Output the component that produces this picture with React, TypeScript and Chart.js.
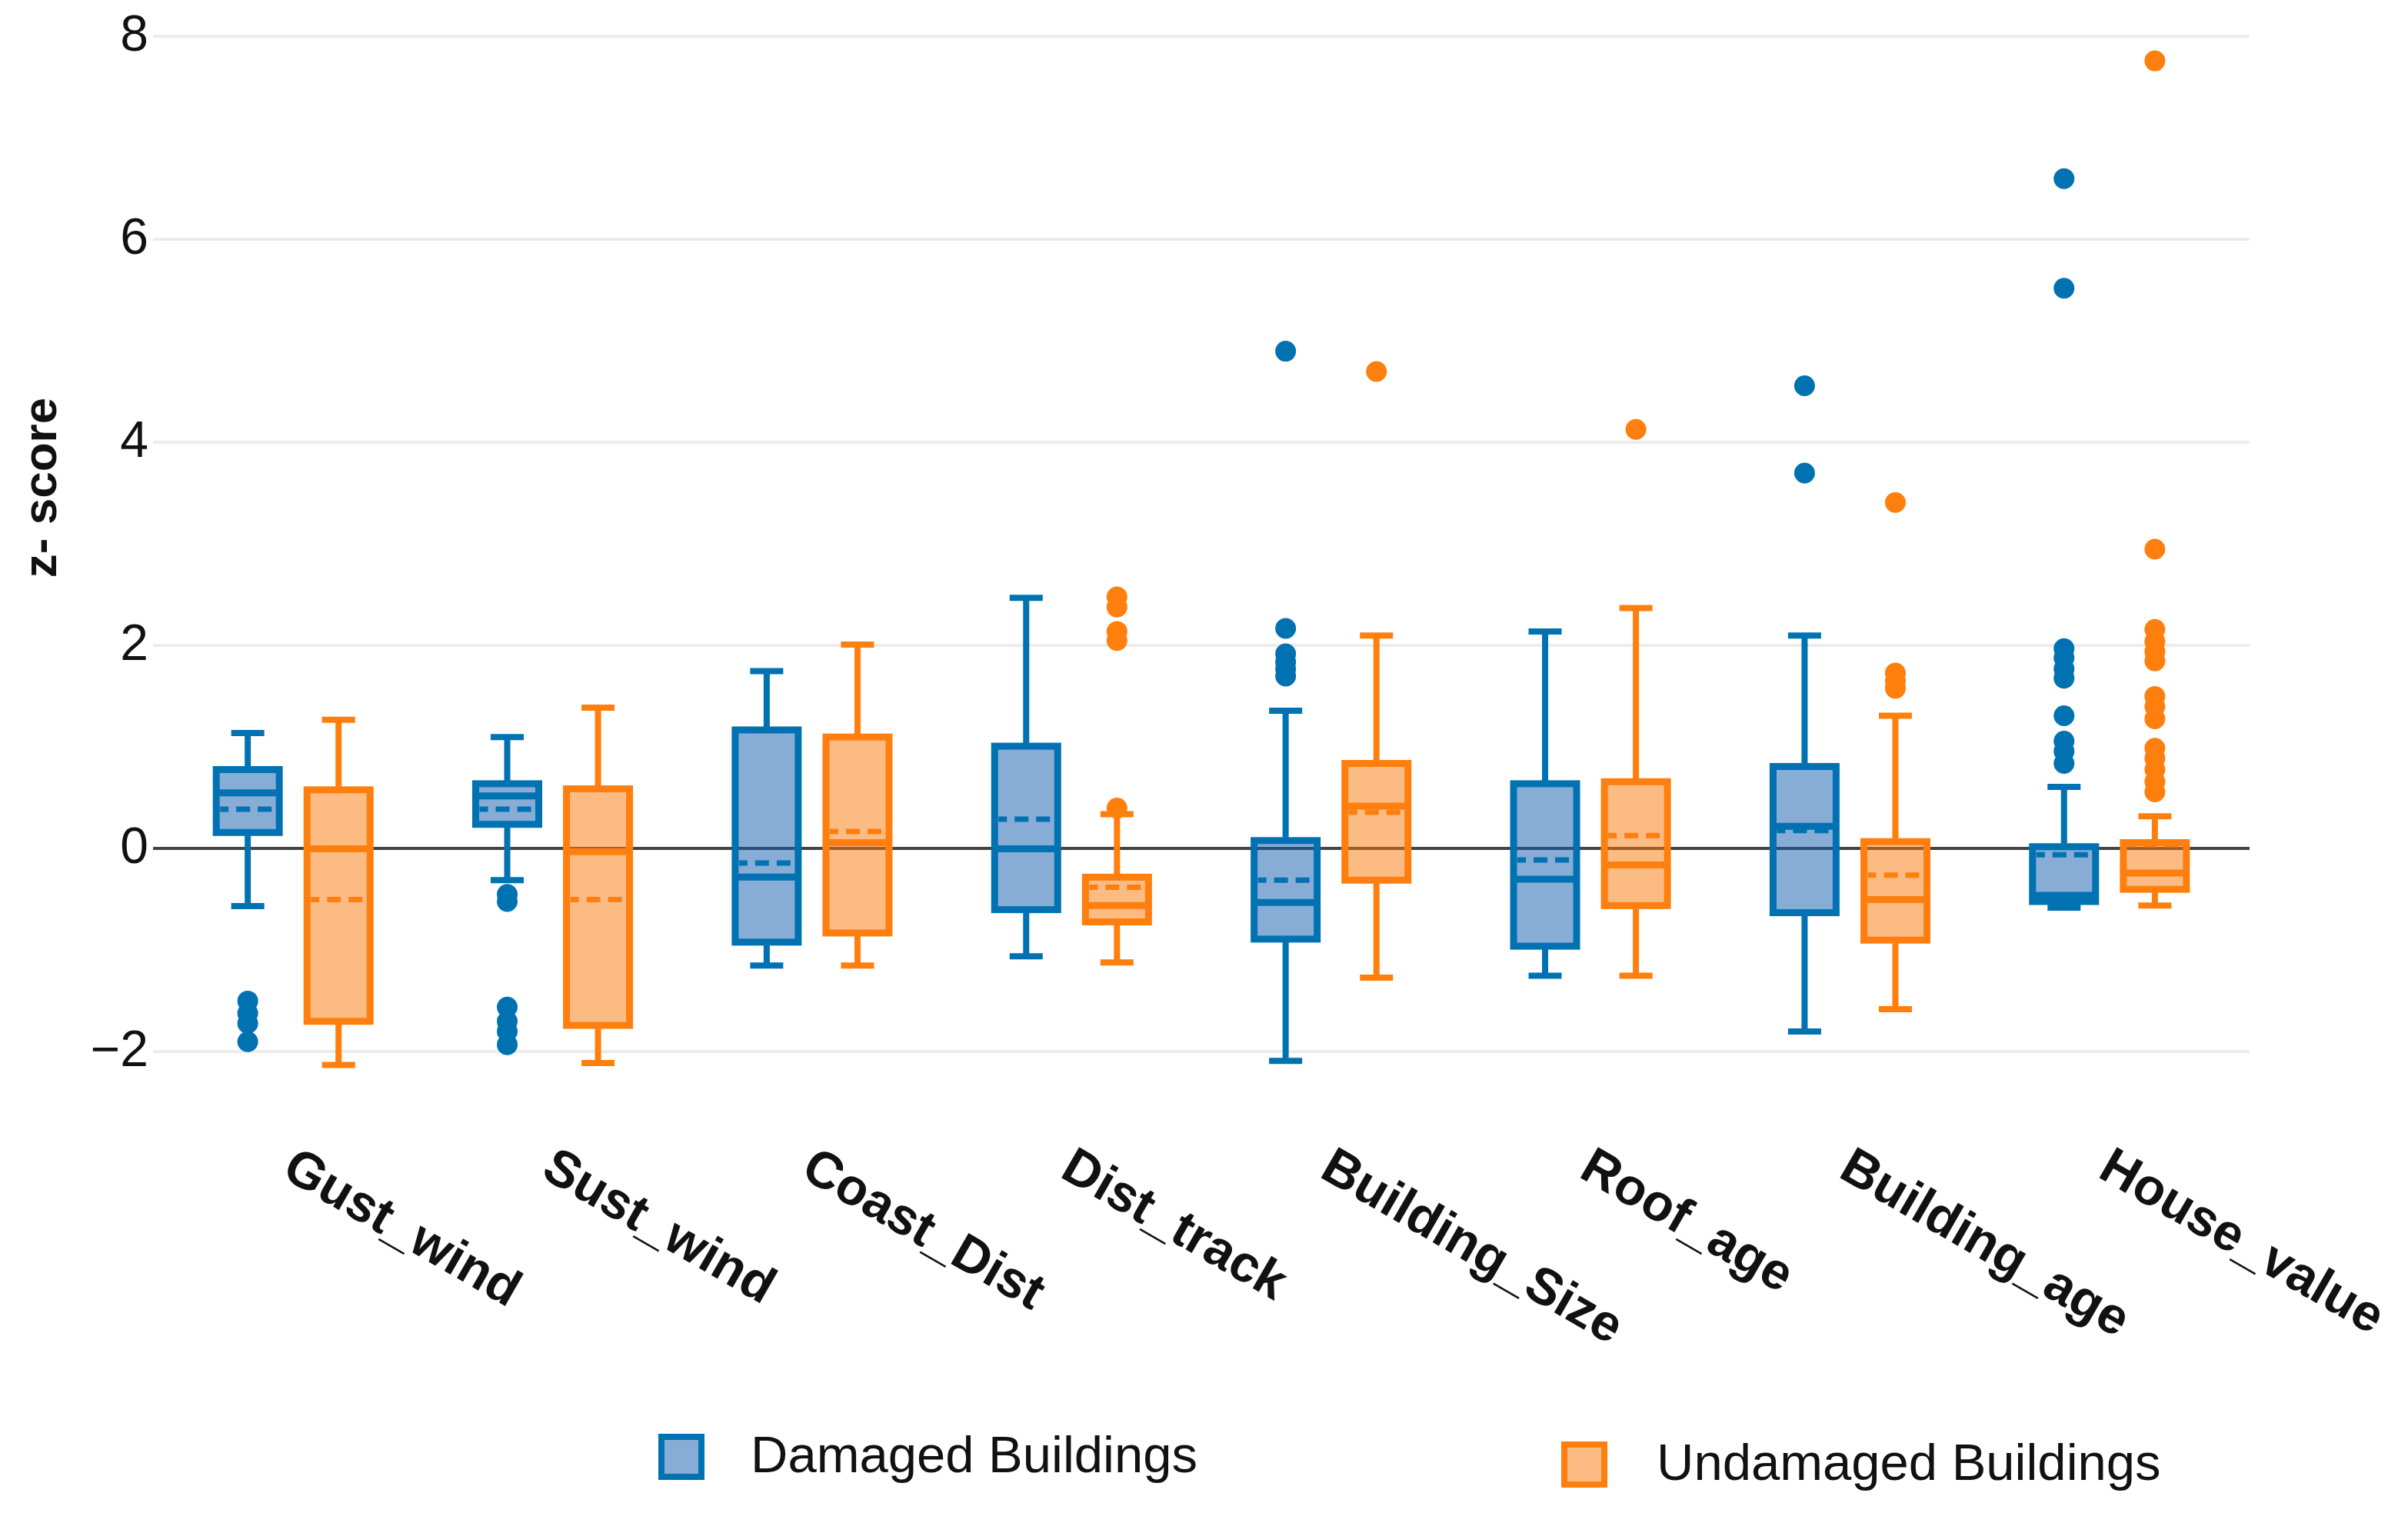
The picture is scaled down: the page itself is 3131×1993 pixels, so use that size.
import { useEffect, useRef } from 'react';
import { Chart, registerables } from 'chart.js';

Chart.register(...registerables);

const CATEGORIES = ['Gust_wind', 'Sust_wind', 'Coast_Dist', 'Dist_track', 'Building_Size', 'Roof_age', 'Building_age', 'House_value'];

const DAMAGED_MIN = [-0.565, -0.31, -1.15, -1.06, -2.09, -1.25, -1.8, -0.58];
const DAMAGED_Q1 = [0.16, 0.24, -0.92, -0.6, -0.89, -0.96, -0.63, -0.52];
const DAMAGED_MEDIAN = [0.55, 0.52, -0.28, 0.0, -0.53, -0.3, 0.22, -0.46];
const DAMAGED_MEAN = [0.39, 0.39, -0.14, 0.29, -0.31, -0.11, 0.18, -0.06];
const DAMAGED_Q3 = [0.78, 0.64, 1.17, 1.01, 0.08, 0.64, 0.81, 0.02];
const DAMAGED_MAX = [1.14, 1.1, 1.75, 2.47, 1.36, 2.14, 2.1, 0.61];
const DAMAGED_OUTLIERS = [
  [-1.5, -1.62, -1.72, -1.9],
  [-0.45, -0.52, -1.56, -1.7, -1.8, -1.93],
  [],
  [],
  [4.9, 2.17, 1.92, 1.84, 1.77, 1.7],
  [],
  [4.56, 3.7],
  [6.6, 5.52, 1.97, 1.88, 1.77, 1.68, 1.31, 1.06, 0.96, 0.84],
];

const UNDAMAGED_MIN = [-2.13, -2.11, -1.15, -1.12, -1.27, -1.25, -1.58, -0.56];
const UNDAMAGED_Q1 = [-1.7, -1.74, -0.83, -0.72, -0.31, -0.56, -0.9, -0.4];
const UNDAMAGED_MEDIAN = [0.0, -0.03, 0.06, -0.56, 0.42, -0.16, -0.5, -0.24];
const UNDAMAGED_MEAN = [-0.5, -0.5, 0.17, -0.38, 0.36, 0.13, -0.26, 0.04];
const UNDAMAGED_Q3 = [0.58, 0.59, 1.1, -0.28, 0.84, 0.66, 0.07, 0.06];
const UNDAMAGED_MAX = [1.27, 1.39, 2.01, 0.34, 2.1, 2.37, 1.31, 0.32];
const UNDAMAGED_OUTLIERS = [
  [],
  [],
  [],
  [2.48, 2.38, 2.14, 2.05, 0.4],
  [4.7],
  [4.13],
  [3.41, 1.73, 1.65, 1.58],
  [7.76, 2.95, 2.16, 2.04, 1.94, 1.85, 1.5, 1.4, 1.28, 0.99, 0.89, 0.78, 0.66, 0.56],
];

const Y_TICKS = [-2, 0, 2, 4, 6, 8];
const SERIES_NAMES = ['Damaged Buildings', 'Undamaged Buildings'];

const BLUE = '#0072b2';
const BLUE_FILL = 'rgba(15,89,173,0.5)';
const ORANGE = '#ff7f0e';
const ORANGE_FILL = 'rgba(251,119,9,0.5)';
const FONT = '"Liberation Sans", Arial, Helvetica, sans-serif';
const OFFSET = 0.175;
const W = 3131;
const H = 1993;

export default function App() {
  const ref = useRef<HTMLCanvasElement>(null);

  useEffect(() => {
    const canvas = ref.current;
    if (!canvas) return;

    const groups: Record<string, any> = {
      [SERIES_NAMES[0]]: { stroke: BLUE, fill: BLUE_FILL, min: DAMAGED_MIN, q1: DAMAGED_Q1, med: DAMAGED_MEDIAN, mean: DAMAGED_MEAN, q3: DAMAGED_Q3, max: DAMAGED_MAX },
      [SERIES_NAMES[1]]: { stroke: ORANGE, fill: ORANGE_FILL, min: UNDAMAGED_MIN, q1: UNDAMAGED_Q1, med: UNDAMAGED_MEDIAN, mean: UNDAMAGED_MEAN, q3: UNDAMAGED_Q3, max: UNDAMAGED_MAX },
    };

    const outlierPoints = (outs: number[][], off: number) =>
      outs.flatMap((arr, i) => arr.map((v) => ({ x: i + off, y: v })));

    const boxPlugin = {
      id: 'boxLines',
      afterDatasetDraw(chart: any, args: any) {
        const ds = chart.data.datasets[args.index];
        const g = groups[ds.label];
        if (!g || ds.type !== 'bar') return;
        const y = chart.scales.y;
        const ctx = chart.ctx;
        ctx.save();
        ctx.strokeStyle = g.stroke;
        ctx.lineCap = 'butt';
        args.meta.data.forEach((el: any, i: number) => {
          const cx = el.x;
          const w = el.width;
          const yq1 = y.getPixelForValue(g.q1[i]);
          const yq3 = y.getPixelForValue(g.q3[i]);
          // box outline centred on the quartile edges
          ctx.setLineDash([]);
          ctx.lineWidth = 9;
          ctx.strokeRect(cx - w / 2, yq3, w, yq1 - yq3);
          // whiskers
          ctx.lineWidth = 8;
          ctx.beginPath();
          ctx.moveTo(cx, yq3 - 4);
          ctx.lineTo(cx, y.getPixelForValue(g.max[i]));
          ctx.moveTo(cx, yq1 + 4);
          ctx.lineTo(cx, y.getPixelForValue(g.min[i]));
          ctx.stroke();
          const ch = 21.5;
          ctx.beginPath();
          ctx.moveTo(cx - ch, y.getPixelForValue(g.max[i]));
          ctx.lineTo(cx + ch, y.getPixelForValue(g.max[i]));
          ctx.moveTo(cx - ch, y.getPixelForValue(g.min[i]));
          ctx.lineTo(cx + ch, y.getPixelForValue(g.min[i]));
          ctx.stroke();
          // median
          ctx.lineWidth = 9;
          ctx.beginPath();
          ctx.moveTo(cx - w / 2, y.getPixelForValue(g.med[i]));
          ctx.lineTo(cx + w / 2, y.getPixelForValue(g.med[i]));
          ctx.stroke();
          // mean (dashed)
          ctx.lineWidth = 7;
          ctx.setLineDash([18, 10]);
          ctx.lineDashOffset = 7;
          ctx.beginPath();
          ctx.moveTo(cx - w / 2 + 5, y.getPixelForValue(g.mean[i]));
          ctx.lineTo(cx + w / 2 - 5, y.getPixelForValue(g.mean[i]));
          ctx.stroke();
        });
        ctx.restore();
      },
    };

    const decorPlugin = {
      id: 'decor',
      afterDraw(chart: any) {
        const ctx = chart.ctx;
        const xs = chart.scales.x;
        ctx.save();
        ctx.fillStyle = '#111';
        ctx.save();
        ctx.translate(56, 634);
        ctx.rotate(-Math.PI / 2);
        ctx.font = `bold 62px ${FONT}`;
        ctx.textAlign = 'center';
        ctx.textBaseline = 'middle';
        ctx.fillText('z- score', 0, 0);
        ctx.restore();
        ctx.font = `bold 67px ${FONT}`;
        ctx.textAlign = 'left';
        ctx.textBaseline = 'top';
        CATEGORIES.forEach((c, i) => {
          const px = xs.getPixelForValue(i);
          ctx.save();
          ctx.translate(px + 9, 1484);
          ctx.rotate(Math.PI / 6);
          ctx.fillText(c, 0, 0);
          ctx.restore();
        });
        const items = [
          { name: SERIES_NAMES[0], stroke: BLUE, fill: BLUE_FILL, bx: 856, by: 1864, tx: 976, ty: 1896 },
          { name: SERIES_NAMES[1], stroke: ORANGE, fill: ORANGE_FILL, bx: 2030, by: 1874, tx: 2154, ty: 1906 },
        ];
        items.forEach((it) => {
          ctx.fillStyle = it.fill;
          ctx.fillRect(it.bx, it.by, 60, 60);
          ctx.strokeStyle = it.stroke;
          ctx.lineWidth = 8;
          ctx.strokeRect(it.bx + 4, it.by + 4, 52, 52);
          ctx.fillStyle = '#111';
          ctx.font = `67px ${FONT}`;
          ctx.textAlign = 'left';
          ctx.textBaseline = 'middle';
          ctx.fillText(it.name, it.tx, it.ty);
        });
        ctx.restore();
      },
    };

    const chart = new Chart(canvas, {
      type: 'bar',
      data: {
        datasets: [
          {
            type: 'scatter',
            label: 'damaged-outliers',
            data: outlierPoints(DAMAGED_OUTLIERS, -OFFSET),
            backgroundColor: BLUE,
            borderWidth: 0,
            pointRadius: 13.5,
            pointHoverRadius: 13.5,
          },
          {
            type: 'scatter',
            label: 'undamaged-outliers',
            data: outlierPoints(UNDAMAGED_OUTLIERS, OFFSET),
            backgroundColor: ORANGE,
            borderWidth: 0,
            pointRadius: 13.5,
            pointHoverRadius: 13.5,
          },
          {
            type: 'bar',
            label: SERIES_NAMES[0],
            data: CATEGORIES.map((_, i) => ({ x: i - OFFSET, y: [DAMAGED_Q1[i], DAMAGED_Q3[i]] })),
            backgroundColor: BLUE_FILL,
            borderWidth: 0,
            borderSkipped: false,
            barThickness: 82,
            grouped: false,
          },
          {
            type: 'bar',
            label: SERIES_NAMES[1],
            data: CATEGORIES.map((_, i) => ({ x: i + OFFSET, y: [UNDAMAGED_Q1[i], UNDAMAGED_Q3[i]] })),
            backgroundColor: ORANGE_FILL,
            borderWidth: 0,
            borderSkipped: false,
            barThickness: 82,
            grouped: false,
          },
        ] as any,
      },
      options: {
        responsive: false,
        maintainAspectRatio: false,
        devicePixelRatio: 1,
        animation: false,
        events: [],
        layout: { padding: { top: 21, right: 206, bottom: H - 1407, left: 0 } },
        plugins: {
          legend: { display: false },
          tooltip: { enabled: false },
          title: { display: false },
        },
        scales: {
          x: {
            type: 'linear',
            min: -0.54,
            max: 7.54,
            offset: false,
            display: false,
            grid: { display: false, offset: false },
          },
          y: {
            type: 'linear',
            min: -2.3,
            max: 8.2,
            afterBuildTicks: (scale: any) => {
              scale.ticks = Y_TICKS.map((v) => ({ value: v }));
            },
            afterFit: (scale: any) => {
              scale.width = 199;
              scale.paddingTop = 0;
              scale.paddingBottom = 0;
            },
            border: { display: false },
            grid: {
              drawTicks: false,
              lineWidth: 4,
              color: (c: any) => (c.tick && c.tick.value === 0 ? '#444444' : '#ececec'),
            },
            ticks: {
              padding: 6,
              color: '#111',
              font: { size: 66, family: FONT, lineHeight: 0.5 },
              callback: (v: any) => (Number(v) < 0 ? '\u2212' + Math.abs(Number(v)) : String(v)),
            },
          },
        } as any,
      },
      plugins: [boxPlugin, decorPlugin],
    } as any);

    return () => chart.destroy();
  }, []);

  return (
    <div style={{ position: 'absolute', left: 0, top: 0, width: W, height: H, background: '#ffffff' }}>
      <canvas ref={ref} width={W} height={H} style={{ width: W, height: H, display: 'block' }} />
    </div>
  );
}
